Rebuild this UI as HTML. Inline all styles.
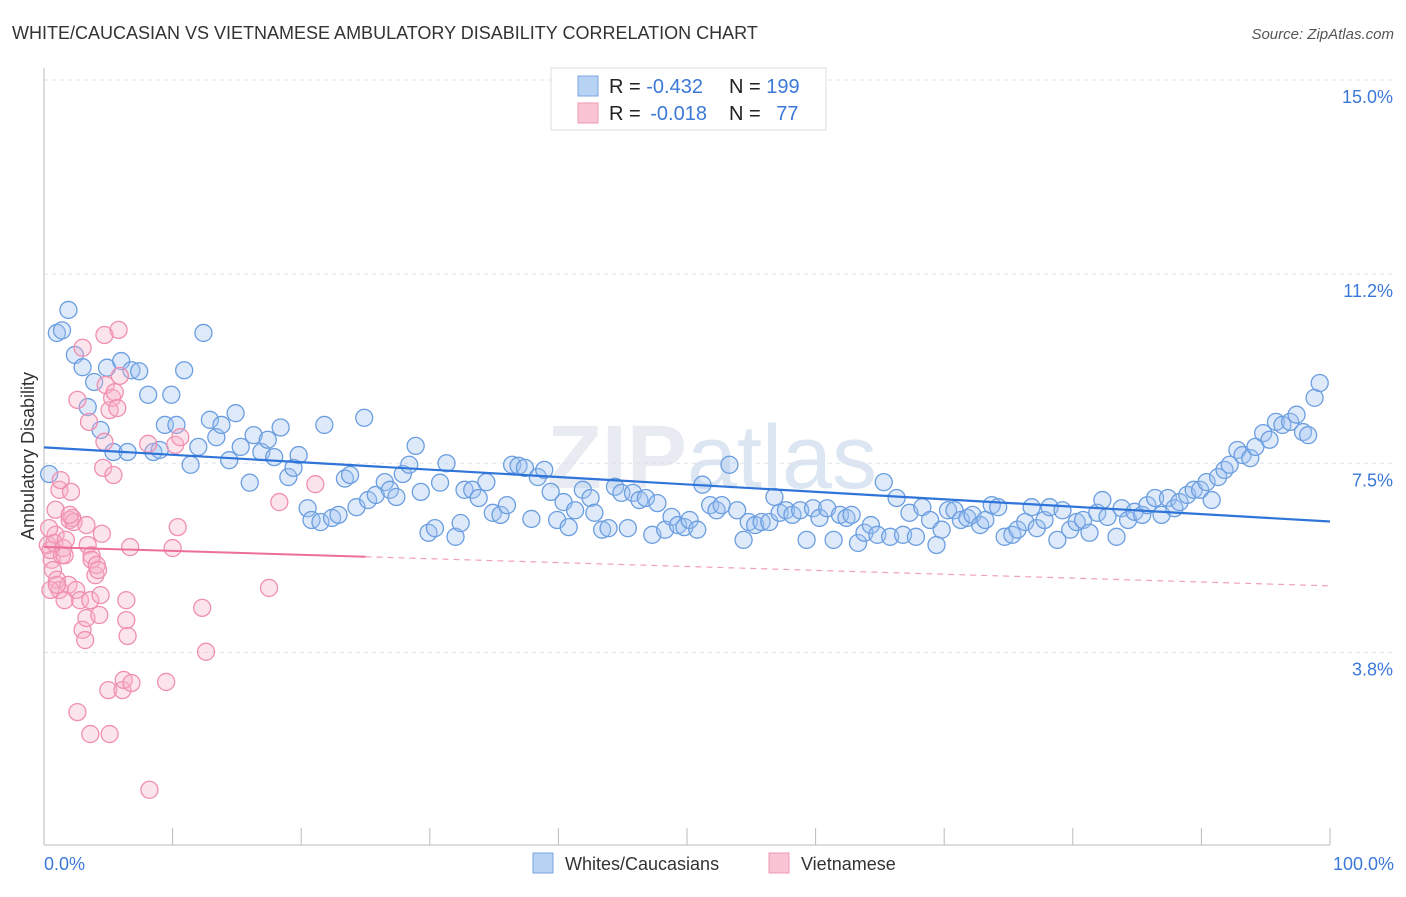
<!DOCTYPE html>
<html><head><meta charset="utf-8"><style>
body{margin:0;background:#fff;font-family:"Liberation Sans",sans-serif;}
svg text{font-family:"Liberation Sans",sans-serif;}
</style></head><body>
<svg id="chart" width="1406" height="892" xmlns="http://www.w3.org/2000/svg">
<text x="12" y="39" font-size="18" fill="#333">WHITE/CAUCASIAN VS VIETNAMESE AMBULATORY DISABILITY CORRELATION CHART</text>
<text x="1394" y="39" font-size="15" fill="#555" font-style="italic" text-anchor="end">Source: ZipAtlas.com</text>
<text x="712" y="488" font-size="90" fill="#e8ecf2" text-anchor="middle" font-family="Liberation Serif"><tspan font-weight="bold">ZIP</tspan><tspan font-family="Liberation Sans" fill="#dce6f2">atlas</tspan></text>
<g id="grid"></g>
<g id="axes"></g>
<g id="pts"></g>
<g id="trends"></g>
<text transform="translate(34,456) rotate(-90)" font-size="18" fill="#333" text-anchor="middle">Ambulatory Disability</text>
<text x="44" y="870" font-size="18" fill="#3b78d8">0.0%</text>
<text x="1394" y="870" font-size="18" fill="#3b78d8" text-anchor="end">100.0%</text>
<g>
<rect x="551" y="68" width="275" height="62" fill="#fff" stroke="#ddd"/>
<rect x="578" y="76" width="20" height="20" fill="#b8d2f4" stroke="#7aa6e0"/>
<rect x="578" y="103" width="20" height="20" fill="#f9c4d4" stroke="#f09ab6"/>
<text x="609" y="93" font-size="20" fill="#222">R = <tspan fill="#3b78d8">-0.432</tspan><tspan x="729">N = </tspan><tspan fill="#3b78d8">199</tspan></text>
<text x="609" y="120" font-size="20" fill="#222">R = <tspan fill="#3b78d8" dx="4">-0.018</tspan><tspan x="729">N = </tspan><tspan fill="#3b78d8" dx="10">77</tspan></text>
</g>
<g>
<rect x="533" y="853" width="20" height="20" fill="#b8d2f4" stroke="#7aa6e0"/>
<text x="565" y="870" font-size="18" fill="#333">Whites/Caucasians</text>
<rect x="769" y="853" width="20" height="20" fill="#f9c4d4" stroke="#f09ab6"/>
<text x="801" y="870" font-size="18" fill="#333">Vietnamese</text>
</g>
</svg>
<script>
const yTicks=[15.0,11.2,7.5,3.8];
const yTickLabels=["15.0%","11.2%","7.5%","3.8%"];
const xTicks=[0,10,20,30,40,50,60,70,80,90,100];
const blueX=[0.4,1.0,1.4,1.9,2.4,3.0,3.4,3.9,4.4,4.9,5.4,6.0,6.5,6.8,7.4,8.1,8.5,9.0,9.4,9.9,10.3,10.9,11.4,12.0,12.4,12.9,13.4,13.8,14.4,14.9,15.3,16.0,16.3,16.9,17.4,17.9,18.4,19.0,19.4,19.8,20.5,20.8,21.5,21.8,22.4,22.9,23.4,23.8,24.3,24.9,25.2,25.8,26.5,26.9,27.4,27.9,28.4,28.9,29.3,29.9,30.4,30.8,31.3,32.0,32.4,32.7,33.3,33.8,34.4,34.9,35.5,36.0,36.4,36.9,37.4,37.9,38.4,38.9,39.4,39.9,40.4,40.8,41.3,41.9,42.5,42.8,43.4,43.9,44.4,44.9,45.4,45.8,46.3,46.8,47.3,47.7,48.3,48.8,49.3,49.8,50.2,50.8,51.2,51.8,52.3,52.7,53.3,53.9,54.4,54.8,55.3,55.8,56.4,56.8,57.2,57.7,58.2,58.8,59.3,59.8,60.3,60.9,61.4,61.9,62.4,62.8,63.3,63.8,64.3,64.8,65.3,65.8,66.3,66.8,67.3,67.8,68.3,68.9,69.4,69.8,70.3,70.8,71.3,71.8,72.2,72.8,73.2,73.7,74.2,74.7,75.3,75.7,76.3,76.8,77.2,77.8,78.2,78.8,79.2,79.8,80.3,80.8,81.3,81.9,82.3,82.7,83.4,83.8,84.3,84.8,85.4,85.8,86.4,86.9,87.4,87.9,88.3,88.9,89.4,89.9,90.4,90.8,91.3,91.8,92.2,92.8,93.2,93.8,94.2,94.8,95.3,95.8,96.3,96.9,97.4,97.9,98.3,98.8,99.2];
const blueY=[7.29,10.05,10.1,10.5,9.62,9.38,8.6,9.09,8.15,9.37,7.72,9.5,7.72,9.32,9.3,8.84,7.72,7.76,8.25,8.84,8.25,9.32,7.47,7.82,10.05,8.35,8.01,8.25,7.56,8.48,7.82,7.12,8.05,7.72,7.96,7.62,8.2,7.23,7.41,7.66,6.62,6.39,6.35,8.25,6.43,6.49,7.2,7.27,6.64,8.39,6.78,6.88,7.13,6.98,6.84,7.29,7.47,7.84,6.94,6.14,6.23,7.12,7.5,6.06,6.33,6.98,6.98,6.82,7.13,6.53,6.49,6.68,7.47,7.45,7.41,6.41,7.23,7.37,6.94,6.39,6.74,6.25,6.58,6.98,6.82,6.53,6.2,6.23,7.04,6.92,6.23,6.92,6.78,6.82,6.1,6.72,6.2,6.45,6.29,6.25,6.39,6.2,7.08,6.68,6.58,6.68,7.47,6.58,6.0,6.35,6.29,6.35,6.35,6.84,6.53,6.58,6.49,6.58,6.0,6.62,6.43,6.62,6.0,6.49,6.43,6.49,5.94,6.14,6.29,6.1,7.13,6.06,6.82,6.1,6.53,6.06,6.64,6.39,5.9,6.2,6.58,6.58,6.39,6.43,6.49,6.29,6.39,6.68,6.64,6.06,6.1,6.2,6.35,6.64,6.23,6.39,6.64,6.0,6.58,6.2,6.35,6.39,6.14,6.53,6.78,6.45,6.06,6.62,6.39,6.55,6.49,6.68,6.82,6.49,6.82,6.62,6.74,6.88,6.98,6.98,7.13,6.78,7.23,7.37,7.47,7.76,7.66,7.6,7.82,8.09,7.96,8.31,8.25,8.31,8.45,8.11,8.05,8.78,9.07];
const pinkX=[0.3,0.6,0.5,0.7,0.9,1.0,1.2,1.4,0.4,0.8,0.9,1.2,1.3,1.5,1.6,1.7,1.9,2.0,2.1,2.2,2.3,2.5,2.6,2.8,3.0,3.0,3.2,3.3,3.3,3.4,3.5,3.6,3.7,3.7,4.0,4.1,4.2,4.3,4.4,4.5,4.6,4.7,4.7,4.8,5.0,5.1,5.3,5.4,5.5,5.7,5.8,5.9,6.1,6.2,6.4,6.4,6.5,6.7,6.8,8.1,8.2,10.0,10.2,10.4,10.6,9.5,12.3,12.6,17.5,18.3,21.1,2.6,3.6,5.1,1.6,0.5,1.0,2.0];
const pinkY=[5.9,5.61,5.8,5.41,6.1,5.22,5.02,5.7,6.23,5.94,6.59,6.98,7.17,5.84,5.7,6.0,5.12,6.39,6.94,6.43,6.35,5.02,8.74,4.82,9.76,4.24,4.04,6.29,4.47,5.9,8.31,4.82,5.7,5.61,5.31,5.51,5.41,4.53,4.92,6.12,7.41,10.01,7.92,9.03,3.06,8.54,8.78,7.27,8.89,8.58,10.11,9.21,3.06,3.26,4.82,4.43,4.12,5.86,3.2,7.88,1.11,5.84,7.86,6.25,8.01,3.22,4.67,3.81,5.06,6.74,7.09,2.63,2.2,2.2,4.82,5.02,5.12,6.49];
const blueTrend=[7.81,6.36];
const pinkTrend=[5.86,5.1];
const pinkSolidEnd=25;

const NS="http://www.w3.org/2000/svg";
const X0=44,X1=1330,YTOP=80,PXPER=51.1;
function sx(v){return X0+(X1-X0)*v/100;}
function sy(v){return YTOP+(15-v)*PXPER;}
function mk(tag,attrs,parent){const e=document.createElementNS(NS,tag);for(const k in attrs)e.setAttribute(k,attrs[k]);parent.appendChild(e);return e;}
const grid=document.getElementById('grid'),axes=document.getElementById('axes'),pts=document.getElementById('pts'),tr=document.getElementById('trends');
yTicks.forEach((t,i)=>{
  const l=mk('line',{x1:X0,x2:1394,y1:sy(t),y2:sy(t),stroke:'#dde2ea','stroke-dasharray':'4,4'},grid);
  
  
  const tx=mk('text',{x:1393,y:sy(t)+23,'font-size':18,fill:'#3b78d8','text-anchor':'end'},grid);
  tx.textContent=yTickLabels[i];
  
  
});
const ya=mk('line',{x1:X0,x2:X0,y1:68,y2:845,stroke:'#bbb'},axes);


const xa=mk('line',{x1:X0,x2:X1,y1:845,y2:845,stroke:'#bbb'},axes);


xTicks.forEach(t=>{
  const l=mk('line',{x1:sx(t),x2:sx(t),y1:828,y2:845,stroke:'#bbb'},axes);
  
  
});
blueX.forEach((x,i)=>{
  const c=mk('circle',{cx:sx(x),cy:sy(blueY[i]),r:8.5,fill:'rgba(160,196,240,0.35)',stroke:'#6b9ee0','stroke-width':1.3},pts);
  
  
});
pinkX.forEach((x,i)=>{
  const c=mk('circle',{cx:sx(x),cy:sy(pinkY[i]),r:8.5,fill:'rgba(246,178,200,0.35)',stroke:'#f08fb0','stroke-width':1.3},pts);
  
  
});
const bt=mk('line',{x1:sx(0),y1:sy(blueTrend[0]),x2:sx(100),y2:sy(blueTrend[1]),stroke:'#2f74d8','stroke-width':2.2},tr);


const pAt=v=>pinkTrend[0]+(pinkTrend[1]-pinkTrend[0])*v/100;
const ps=mk('line',{x1:sx(0),y1:sy(pinkTrend[0]),x2:sx(pinkSolidEnd),y2:sy(pAt(pinkSolidEnd)),stroke:'#ec6f98','stroke-width':2},tr);


const pd=mk('line',{x1:sx(pinkSolidEnd),y1:sy(pAt(pinkSolidEnd)),x2:sx(100),y2:sy(pinkTrend[1]),stroke:'#f0a0bb','stroke-width':1.2,'stroke-dasharray':'6,5'},tr);


</script>
</body></html>
